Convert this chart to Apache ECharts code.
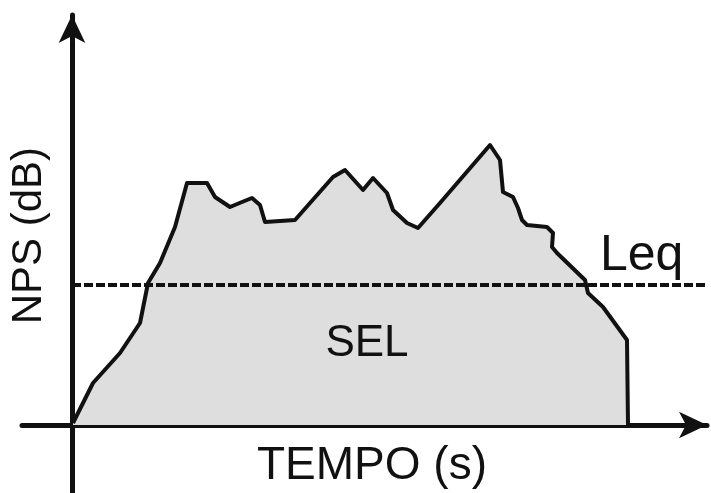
<!DOCTYPE html>
<html>
<head>
<meta charset="utf-8">
<script src="https://cdn.jsdelivr.net/npm/echarts@6/dist/echarts.min.js"></script>
<style>
  html, body { margin: 0; padding: 0; background: #fff; }
  #main { width: 711px; height: 493px; }
</style>
</head>
<body>
<div id="main"></div>
<script>
// tempo (s) e nível (dB)
var tempo = [0.1, 2.1, 4.8, 6.8, 7.6, 8.8, 10.3, 11.5, 13.5, 14.3, 15.8, 17.0, 18.0, 18.8, 19.3,
    22.3, 26.1, 27.3, 29.1, 30.1, 31.5, 32.1, 33.5, 34.6, 36.8, 41.8, 42.8, 43.1, 44.1, 44.6,
    45.0, 45.5, 47.5, 48.1, 48.0, 48.5, 51.3, 51.6, 53.1, 55.5, 55.6];
var nps = [0.5, 10.5, 18, 25.5, 35.5, 40.5, 49.5, 60.5, 60.5, 57, 54.5, 55.75, 56.75, 55, 50.75,
    51.25, 62, 63.75, 58.75, 61.75, 58, 53.75, 50.5, 49.25, 55.5, 70, 66.25, 58.25, 57, 54.25,
    51.25, 50, 49.5, 48, 44.5, 43, 36.25, 33, 29.5, 21.25, 0];
var leq = 35;
var leqTempo = [0, 63.5];

var curva = tempo.map(function (t, i) { return [t, nps[i]]; });
var linhaLeq = leqTempo.map(function (t) { return [t, leq]; });

var myChart = echarts.init(document.getElementById('main'));

var eixo = {
    show: true,
    onZero: true,
    symbol: ['none', 'arrow'],
    symbolSize: [20, 28],
    lineStyle: { color: '#111', width: 5 }
};

var fonte = '"Liberation Sans", Arial, sans-serif';

var option = {
    animation: false,
    grid: { left: 22, right: 4, top: 15, bottom: 0 },
    xAxis: {
        type: 'value', min: -5, max: 63.5,
        axisLine: eixo,
        axisTick: { show: false }, axisLabel: { show: false }, splitLine: { show: false }
    },
    yAxis: {
        type: 'value', min: -17, max: 102.5,
        axisLine: eixo,
        axisTick: { show: false }, axisLabel: { show: false }, splitLine: { show: false }
    },
    series: [{
        // area (SEL)
        type: 'line', data: curva, symbol: 'none', z: 1,
        lineStyle: { width: 0 },
        areaStyle: { color: '#dedede', opacity: 1, origin: 0 }
    }, {
        // Leq tracejado
        type: 'line', data: linhaLeq, symbol: 'none', z: 2,
        lineStyle: { color: '#111', width: 4, type: [9, 3] }
    }, {
        // contorno
        type: 'line', data: curva, symbol: 'none', z: 3,
        lineStyle: { color: '#111', width: 4, join: 'round' }
    }],
    graphic: [
        { type: 'text', left: 8, top: 147, rotation: Math.PI / 2, z: 10,
          style: { text: 'NPS (dB)', font: '42px ' + fonte, fill: '#111' } },
        { type: 'text', z: 10, style: { text: 'TEMPO (s)', x: 372, y: 466, align: 'center', verticalAlign: 'middle',
          font: '46px ' + fonte, fill: '#111' } },
        { type: 'text', z: 10, style: { text: 'SEL', x: 367, y: 344, align: 'center', verticalAlign: 'middle',
          font: '44px ' + fonte, fill: '#111' } },
        { type: 'text', z: 10, style: { text: 'Leq', x: 600, y: 256, align: 'left', verticalAlign: 'middle',
          font: '50px ' + fonte, fill: '#111' } }
    ]
};

myChart.setOption(option);
</script>
</body>
</html>
